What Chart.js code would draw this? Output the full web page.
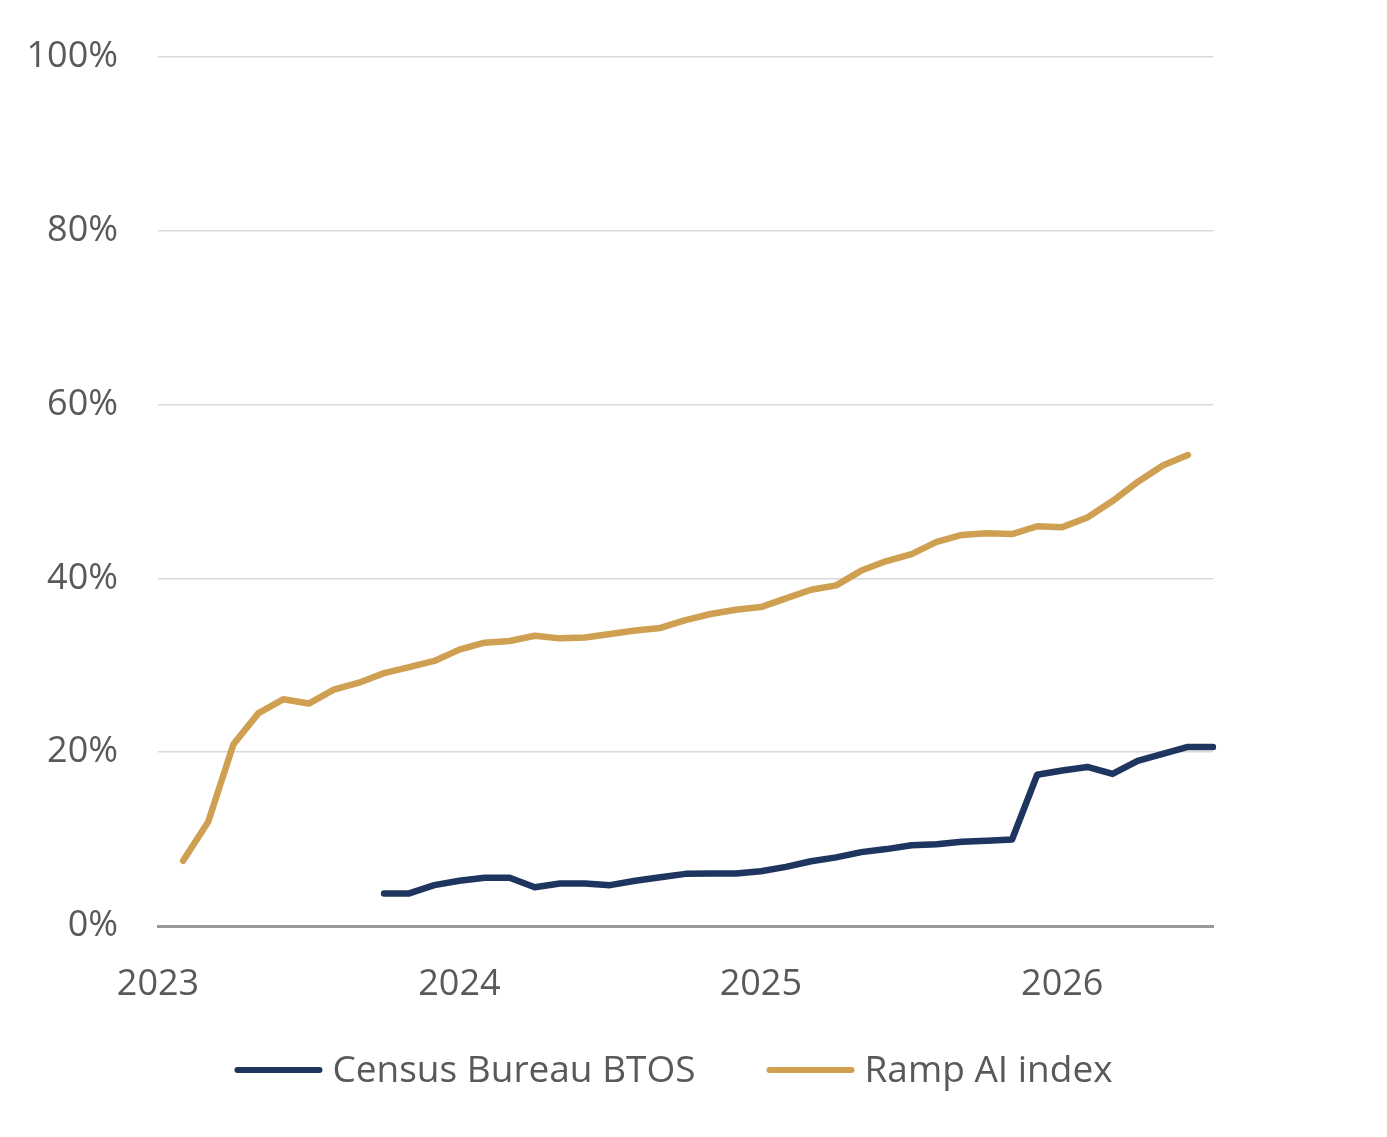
<!DOCTYPE html>
<html>
<head>
<meta charset="utf-8">
<script src="https://cdn.jsdelivr.net/npm/chart.js@4.4.1/dist/chart.umd.min.js"></script>
<style>
  html, body { margin: 0; padding: 0; background: #ffffff; }
  #wrap { position: relative; width: 1387px; height: 1137px; }
</style>
</head>
<body>
<div id="wrap"><canvas id="c" width="1387" height="1137"></canvas></div>
<script>
// Monthly categories, Jan 2023 .. Jul 2026
const monthNames = ['Jan','Feb','Mar','Apr','May','Jun','Jul','Aug','Sep','Oct','Nov','Dec'];
const categories = [];
for (let y = 2023; y <= 2026; y++) {
  for (let m = 0; m < 12; m++) {
    if (y === 2026 && m > 6) break;
    categories.push(monthNames[m] + ' ' + y);
  }
}

const seriesNames = ['Census Bureau BTOS', 'Ramp AI index'];

// Census Bureau BTOS (%), Jan 2023 .. Jul 2026 (null = no data)
const btosValues = [
  null, null, null, null, null, null, null, null, null,
  3.75, 3.75, 4.7,
  5.2, 5.55, 5.55, 4.45, 4.9, 4.9, 4.7, 5.2, 5.6, 6.0, 6.05, 6.05,
  6.3, 6.8, 7.45, 7.9, 8.5, 8.85, 9.3, 9.4, 9.7, 9.8, 9.95, 17.4,
  17.9, 18.3, 17.5, 19.0, 19.8, 20.6, 20.6
];

// Ramp AI index (%), Jan 2023 .. Jul 2026 (null = no data)
const rampValues = [
  null, 7.5, 12.0, 20.9, 24.5, 26.1, 25.6, 27.2, 28.0, 29.1, 29.8, 30.5,
  31.8, 32.6, 32.8, 33.4, 33.1, 33.2, 33.6, 34.0, 34.3, 35.2, 35.9, 36.4,
  36.7, 37.7, 38.7, 39.2, 40.9, 42.0, 42.8, 44.2, 45.0, 45.2, 45.1, 46.0,
  45.9, 47.0, 48.9, 51.1, 53.0, 54.2, null
];

const yTicks = [0, 20, 40, 60, 80, 100];

const FONT = '"Open Sans", Lato, sans-serif';
const TEXT = '#595959';

// Legend drawn under the plot: line sample + label for each dataset
const lineLegend = {
  id: 'lineLegend',
  afterDraw(chart) {
    const ctx = chart.ctx;
    const lineLen = 88, gap = 10, itemGap = 71, centerX = 673.5, y = 1070;
    ctx.save();
    ctx.font = '37px ' + FONT;
    const items = chart.data.datasets.map(ds => ({
      text: ds.label, color: ds.borderColor, tw: ctx.measureText(ds.label).width
    }));
    const total = items.reduce((s, it) => s + lineLen + gap + it.tw, 0) + itemGap * (items.length - 1);
    let x = centerX - total / 2;
    items.forEach(it => {
      ctx.strokeStyle = it.color;
      ctx.lineWidth = 6;
      ctx.lineCap = 'round';
      ctx.beginPath();
      ctx.moveTo(x + 3, y);
      ctx.lineTo(x + lineLen - 3, y);
      ctx.stroke();
      ctx.fillStyle = TEXT;
      ctx.textBaseline = 'alphabetic';
      ctx.textAlign = 'left';
      ctx.fillText(it.text, x + lineLen + gap, y + 12);
      x += lineLen + gap + it.tw + itemGap;
    });
    ctx.restore();
  }
};

new Chart(document.getElementById('c'), {
  type: 'line',
  data: {
    labels: categories,
    datasets: [
      {
        label: seriesNames[0],
        data: btosValues,
        borderColor: '#1d355f',
        backgroundColor: '#1d355f',
        borderWidth: 6.5,
        pointRadius: 0,
        tension: 0,
        borderCapStyle: 'round',
        borderJoinStyle: 'round',
        spanGaps: false
      },
      {
        label: seriesNames[1],
        data: rampValues,
        borderColor: '#cfa052',
        backgroundColor: '#cfa052',
        borderWidth: 6.5,
        pointRadius: 0,
        tension: 0,
        borderCapStyle: 'round',
        borderJoinStyle: 'round',
        spanGaps: false
      }
    ]
  },
  plugins: [lineLegend],
  options: {
    responsive: false,
    animation: false,
    events: [],
    layout: { padding: { top: 57, left: 0, right: 0, bottom: 111 } },
    plugins: {
      tooltip: { enabled: false },
      legend: { display: false }
    },
    scales: {
      x: {
        type: 'category',
        offset: false,
        grid: { display: false, drawTicks: false },
        border: { display: true, color: '#999999', width: 3 },
        ticks: {
          color: TEXT,
          font: { family: FONT, size: 36 },
          autoSkip: false,
          maxRotation: 0,
          minRotation: 0,
          padding: 37,
          callback: function (value, index) {
            const lab = categories[index];
            return lab.startsWith('Jan') ? lab.split(' ')[1] : '';
          }
        },
        afterFit: (s) => { s.height = 100; s.paddingLeft = 0; s.paddingRight = 0; }
      },
      y: {
        min: 0,
        max: 100,
        afterBuildTicks: (s) => { s.ticks = yTicks.map(v => ({ value: v })); },
        grid: {
          drawTicks: false,
          color: (ctx) => ctx.tick && ctx.tick.value === 0 ? 'rgba(0,0,0,0)' : '#d9d9d9',
          lineWidth: 1.5
        },
        border: { display: false },
        ticks: {
          color: TEXT,
          font: { family: FONT, size: 36 },
          padding: 40,
          callback: (v) => v + '%'
        },
        afterFit: (s) => { s.width = 158; s.paddingTop = 0; s.paddingBottom = 0; }
      },
      y2: {
        position: 'right',
        display: true,
        grid: { display: false, drawTicks: false },
        border: { display: false },
        ticks: { display: false },
        afterFit: (s) => { s.width = 174; s.paddingTop = 0; s.paddingBottom = 0; }
      }
    }
  }
});
</script>
</body>
</html>
